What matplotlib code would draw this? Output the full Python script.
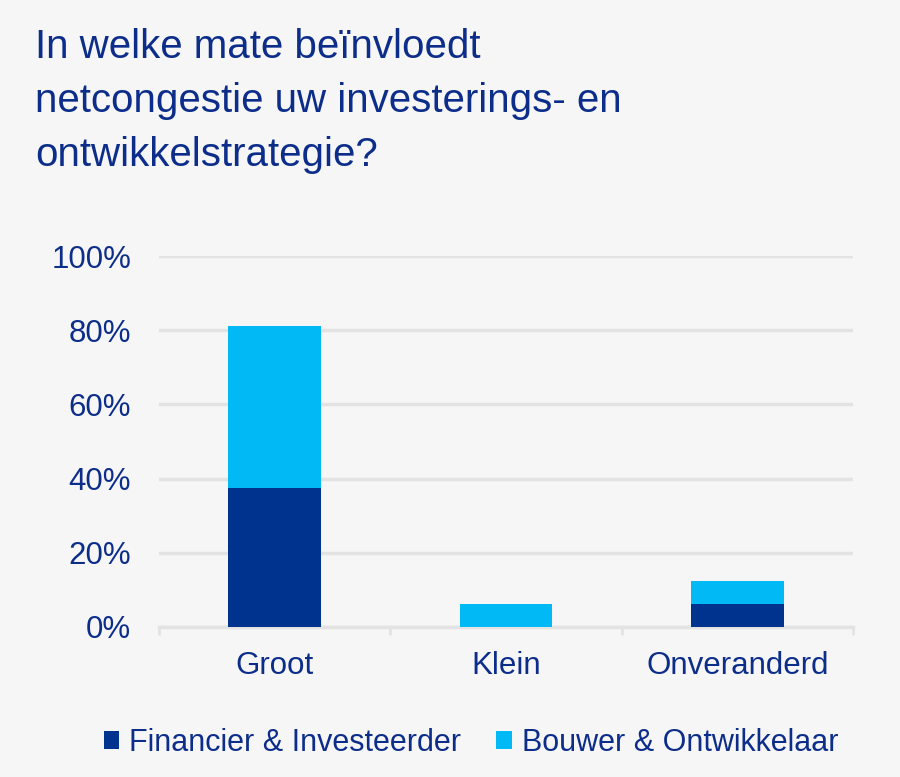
import matplotlib
matplotlib.use("Agg")
import matplotlib.pyplot as plt
from matplotlib.ticker import FixedLocator, PercentFormatter

categories = ["Groot", "Klein", "Onveranderd"]
financier = [37.5, 0.0, 6.25]
bouwer = [43.75, 6.25, 6.25]
series_names = ["Financier & Investeerder", "Bouwer & Ontwikkelaar"]
title = "In welke mate beïnvloedt\nnetcongestie uw investerings- en\nontwikkelstrategie?"

BG = "#F6F6F6"
DARK = "#00338D"
LIGHT = "#00B9F5"
TEXT = "#0C2D8A"
GRID = "#E3E3E3"

plt.rcParams["font.family"] = ["Liberation Sans", "DejaVu Sans"]

fig = plt.figure(figsize=(9, 7.77), dpi=100, facecolor=BG)
ax = fig.add_axes([159/900, 1-627/777, (853-159)/900, (627-256)/777])
ax.set_facecolor(BG)

x = list(range(len(categories)))
b1 = ax.bar(x, financier, width=0.4, color=DARK, label=series_names[0], zorder=3)
b2 = ax.bar(x, bouwer, width=0.4, bottom=financier, color=LIGHT, label=series_names[1], zorder=3)

ax.set_xlim(-0.5, len(categories) - 0.5)
ax.set_ylim(0, 100)
ax.set_yticks([0, 20, 40, 60, 80, 100])
ax.yaxis.set_major_formatter(PercentFormatter(decimals=0))
ax.grid(axis="y", color=GRID, linewidth=2.5, zorder=0)
for s in ["top", "right", "left"]:
    ax.spines[s].set_visible(False)
ax.spines["bottom"].set_color(GRID)
ax.spines["bottom"].set_linewidth(2.5)

ax.set_xticks(x)
ax.set_xticklabels(categories)
ax.xaxis.set_minor_locator(FixedLocator([-0.5, 0.5, 1.5, 2.5]))
ax.tick_params(axis="x", which="major", length=0, pad=17.5, labelsize=22.5, labelcolor=TEXT)
ax.tick_params(axis="x", which="minor", length=6, width=2, color=GRID)
ax.tick_params(axis="y", length=0, pad=20, labelsize=22.5, labelcolor=TEXT)

fig.text(35/900, 1-28/777, title, ha="left", va="top", fontsize=29, color=TEXT, linespacing=1.54)

leg = fig.legend(handles=[b1, b2], loc="center", bbox_to_anchor=(471/900, 1-743/777), ncol=2,
                 frameon=False, fontsize=22, handlelength=0.5, handleheight=0.5,
                 handletextpad=0.33, columnspacing=1.15, borderpad=0, borderaxespad=0)
for t in leg.get_texts():
    t.set_color(TEXT)

fig.savefig("out.png", dpi=100, facecolor=BG)
